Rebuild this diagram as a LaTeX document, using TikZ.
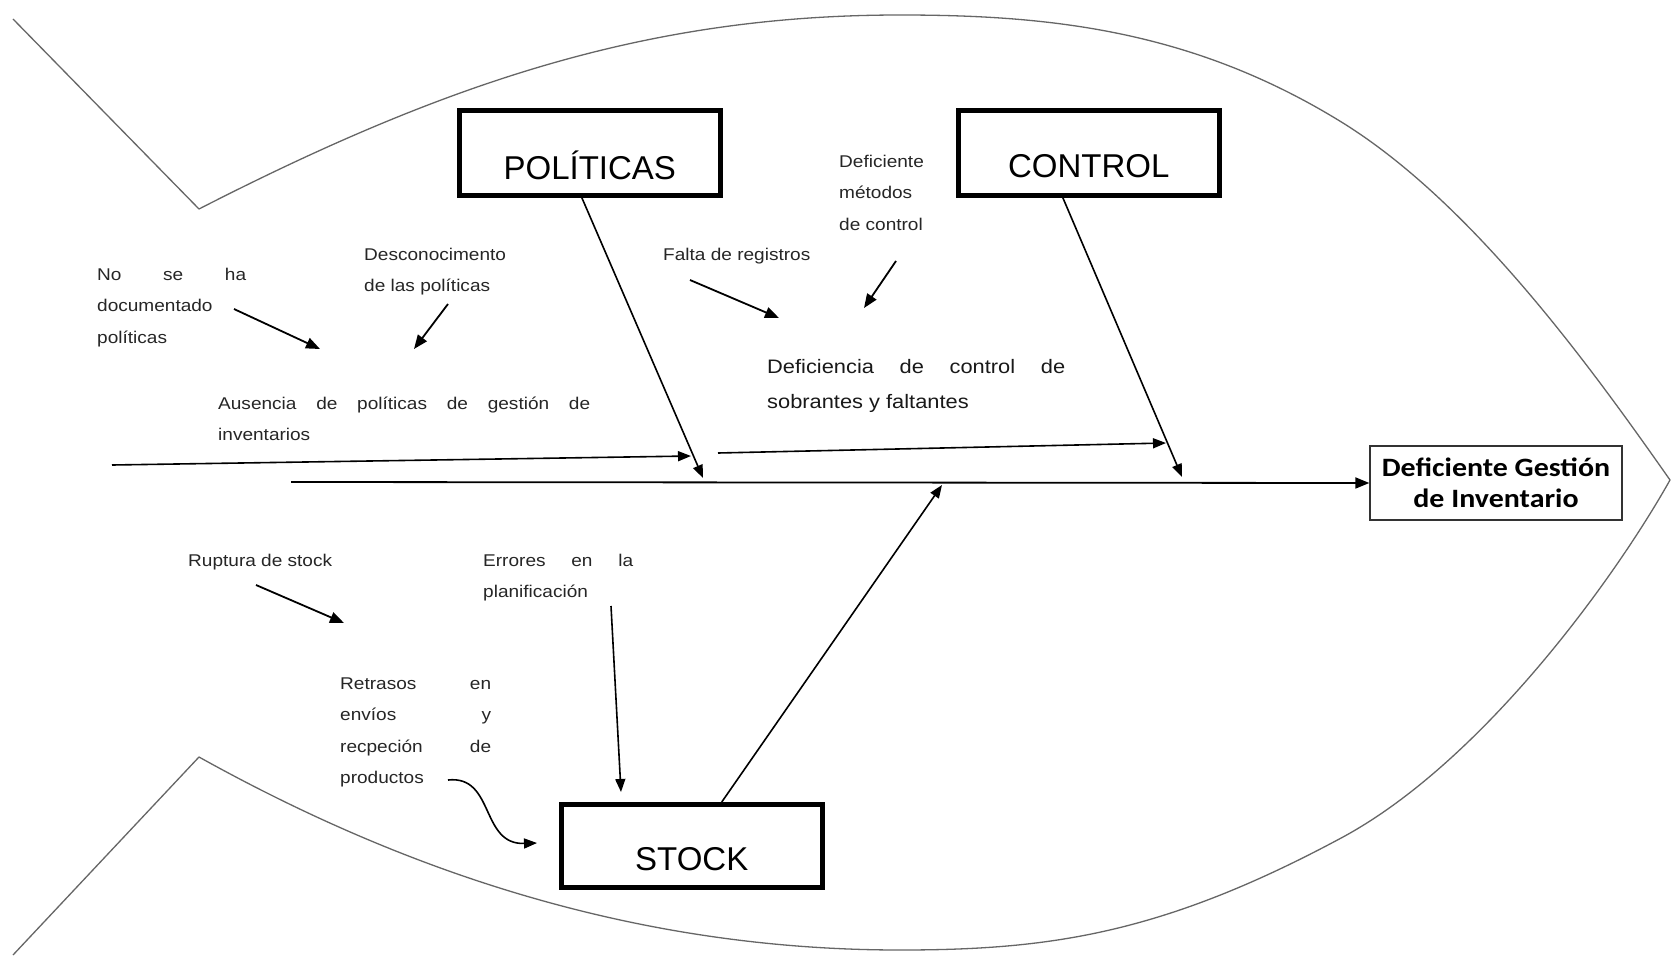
\documentclass[tikz,border=0pt]{standalone}
\usepackage{fontspec}
\setmainfont{Liberation Sans}
\newfontfamily\smf[FakeStretch=1.12]{Liberation Sans}
\newfontfamily\effont[FakeStretch=1.13]{Carlito}
\usetikzlibrary{arrows.meta}
\begin{document}
\begin{tikzpicture}[x=1pt,y=-1pt,
  fish/.style={draw=black!60, line width=1.3pt, line join=round},
  branch/.style={draw, line width=1.6pt, -{Triangle[length=13pt,width=10pt]}},
  conn/.style={draw, line width=1.8pt, -{Triangle[length=14pt,width=11pt]}},
  catbox/.style={draw, line width=4.5pt, inner xsep=0pt, inner ysep=0pt, minimum width=261pt, anchor=north west, font=\fontsize{33}{40}\selectfont},
  small/.style={inner sep=0pt, anchor=base west, font=\smf\fontsize{17}{31.5}\selectfont, text=black!85},
  big/.style={inner sep=0pt, anchor=base west, font=\smf\fontsize{19.5}{35}\selectfont, text=black!90}]
\useasboundingbox (0,0) rectangle (1673,958);
\fill[white] (0,0) rectangle (1673,958);

% fish outline
\coordinate (tailA) at (13,19);
\coordinate (vtop) at (199,209);
\coordinate (peak) at (900,15);
\coordinate (up2) at (1343,123);
\coordinate (nose) at (1670,480);
\coordinate (lo1) at (1343,837);
\coordinate (bot) at (900,950);
\coordinate (vbot) at (199,757);
\coordinate (tailB) at (13,955);
\draw[fish] (tailA) -- (vtop)
  .. controls (449,81) and (650,15) .. (peak)
  .. controls (1050,15) and (1193,30) .. (up2)
  .. controls (1473,204) and (1590,366) .. (nose)
  .. controls (1615,578) and (1483,761) .. (lo1)
  .. controls (1163,934) and (1050,950) .. (bot)
  .. controls (650,950) and (420,880) .. (vbot)
  -- (tailB);

% category boxes
\node[catbox, text height=69pt, text depth=16pt] (pol) at (457,108) {POLÍTICAS};
\node[catbox, text height=67pt, text depth=18pt] (ctl) at (956,108) {CONTROL};
\node[catbox, text height=66pt, text depth=17pt] (stk) at (559,802) {STOCK};

% effect
\node[draw=black!80, line width=1.3pt, minimum width=252pt, minimum height=74pt, align=center,
  font=\effont\bfseries\fontsize{26.5}{31}\selectfont] (eff) at (1496,483) {Deficiente Gestión\\de Inventario};

% spine and branches
\coordinate (sp0) at (291,482);
\draw[conn] (sp0) -- (eff.west);
\coordinate (polend) at (703,478);
\coordinate (ctlend) at (1182,477);
\coordinate (stkend) at (942,485);
\draw[branch] ([xshift=-8pt]pol.south) -- (polend);
\draw[branch] ([xshift=-26pt]ctl.south) -- (ctlend);
\draw[branch] ([xshift=30pt]stk.north) -- (stkend);

% sub-branches
\coordinate (a0) at (112,465);
\coordinate (a1) at (691,456);
\draw[branch] (a0) -- (a1);
\coordinate (b0) at (718,453);
\coordinate (b1) at (1166,443);
\draw[branch] (b0) -- (b1);

% texts
\node[small] (nodoc) at (97,280) {\parbox[t]{149pt}{\makebox[149pt][s]{No\hfill se\hfill ha}\\documentado\\políticas}};
\node[small] (descon) at (364,260) {\parbox[t]{200pt}{Desconocimento\\de las políticas}};
\node[small] (aus) at (218,409) {\parbox[t]{372pt}{\makebox[372pt][s]{Ausencia de políticas de gestión de}\\inventarios}};
\node[small] (falta) at (663,260) {Falta de registros};
\node[small] (defmet) at (839,167) {\parbox[t]{120pt}{Deficiente\\métodos\\de control}};
\node[big] (defcon) at (767,373) {\parbox[t]{298pt}{\makebox[298pt][s]{Deficiencia de control de}\\sobrantes y faltantes}};
\node[small] (rupt) at (188,566) {Ruptura de stock};
\node[small] (err) at (483,566) {\parbox[t]{150pt}{\makebox[150pt][s]{Errores en la}\\planificación}};
\node[small] (retr) at (340,689) {\parbox[t]{151pt}{\makebox[151pt][s]{Retrasos en}\\\makebox[151pt][s]{envíos y}\\\makebox[151pt][s]{recpeción de}\\productos}};

% small arrows
\coordinate (n0) at (234,309); \coordinate (n1) at (320,349);
\draw[conn] (n0) -- (n1);
\coordinate (d0) at (448,304); \coordinate (d1) at (414,349);
\draw[conn] (d0) -- (d1);
\coordinate (f0) at (690,280); \coordinate (f1) at (779,318);
\draw[conn] (f0) -- (f1);
\coordinate (m0) at (896,261); \coordinate (m1) at (864,308);
\draw[conn] (m0) -- (m1);
\coordinate (r0) at (256,585); \coordinate (r1) at (344,623);
\draw[conn] (r0) -- (r1);
\coordinate (e0) at (611,606); \coordinate (e1) at (621,792);
\draw[branch] (e0) -- (e1);
\coordinate (t0) at (448,780); \coordinate (t1) at (537,843);
\draw[branch] (t0) .. controls (495,775) and (480,845) .. (t1);
\end{tikzpicture}
\end{document}
